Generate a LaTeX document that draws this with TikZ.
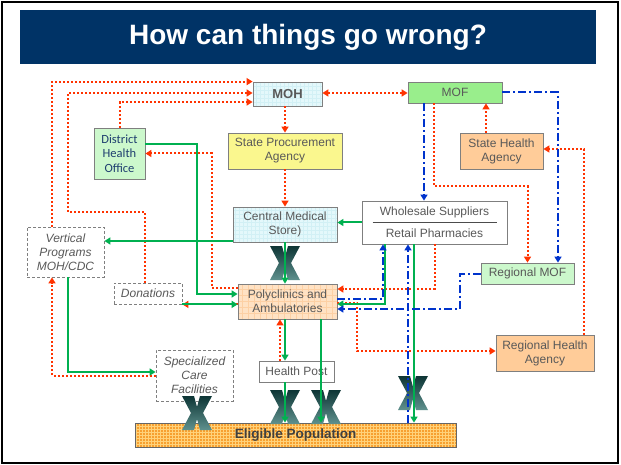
\documentclass[tikz,border=0pt]{standalone}
\usepackage{fontspec}
\setmainfont{Liberation Sans}
\newfontfamily\dhofont{Carlito}
\usetikzlibrary{arrows.meta,calc}
\definecolor{navy}{HTML}{003366}
\definecolor{redc}{HTML}{FF3300}
\definecolor{greenc}{HTML}{00B050}
\definecolor{bluec}{HTML}{0033CC}
\definecolor{boxgray}{HTML}{7F7F7F}
\definecolor{txtgray}{HTML}{595959}
\definecolor{cyanfill}{HTML}{E4F8FB}
\definecolor{cyangrid}{HTML}{D2F0F5}
\definecolor{moffill}{HTML}{99EE8C}
\definecolor{lgfill}{HTML}{CCF8CC}
\definecolor{yelfill}{HTML}{FAF78E}
\definecolor{peachfill}{HTML}{FFCC99}
\definecolor{polyfill}{HTML}{FFE2C4}
\definecolor{polygrid}{HTML}{FDD0A4}
\definecolor{epfill}{HTML}{F7A030}
\definecolor{epgrid}{HTML}{FFD27A}
\definecolor{dhotext}{HTML}{1F3F6F}
\definecolor{xtop}{HTML}{0D3535}
\definecolor{xbot}{HTML}{5F918E}
\begin{document}
\begin{tikzpicture}[x=1pt,y=-1pt,>={Triangle[length=6pt,width=7pt]},
  box/.style={draw=boxgray, line width=0.8pt, inner sep=0pt, align=center, text=txtgray,
    font=\fontsize{12}{14}\selectfont},
  dbox/.style={box, dash pattern=on 3pt off 2pt, fill=white, font=\itshape\fontsize{12}{14}\selectfont},
  gridfill/.style n args={3}{fill=#1, path picture={\draw[#2, line width=0.35pt, step=#3]
      (path picture bounding box.south west) grid (path picture bounding box.north east);}},
  rd/.style={draw=redc, line width=2pt, dash pattern=on 2pt off 2pt},
  gr/.style={draw=greenc, line width=2pt},
  bl/.style={draw=bluec, line width=2pt, dash pattern=on 8pt off 3pt on 2pt off 3pt},
  titletext/.style={text=white, font=\bfseries\fontsize{28}{32}\selectfont},
  bigx/.pic={\shade[top color=xtop, bottom color=xbot]
     (-15,-17) -- (-3,-17) -- (0,-6) -- (3,-17) -- (15,-17) -- (6,0) -- (15,17) -- (3,17)
     -- (0,6) -- (-3,17) -- (-15,17) -- (-6,0) -- cycle;}
]
\useasboundingbox (0,0) rectangle (621,465);
\fill[white] (0,0) rectangle (621,465);
\draw[black, line width=1.5pt] (2,2) rectangle (618,463);
\fill[navy] (20,10) rectangle (596,64);
\node[titletext] (title) at (308,37) {How can things go wrong?};

% nodes
\node[box, gridfill={cyanfill}{cyangrid}{4pt}, minimum width=69pt, minimum height=24pt,
  font=\bfseries\fontsize{13}{15}\selectfont] (moh) at (287.5,94) {MOH};
\node[box, fill=moffill, minimum width=94pt, minimum height=21pt] (mof) at (455,92.5) {MOF};
\node[box, fill=lgfill, minimum width=51pt, minimum height=51pt, text=dhotext,
  font=\dhofont\fontsize{12.5}{14.5}\selectfont] (dho) at (119.5,153.5) {District\\Health\\Office};
\node[box, fill=yelfill, minimum width=114pt, minimum height=36pt] (spa) at (285,151) {State Procurement\\Agency};
\node[box, fill=peachfill, minimum width=83pt, minimum height=36pt] (sha) at (501.5,151) {State Health\\Agency};
\node[box, gridfill={cyanfill}{cyangrid}{4pt}, minimum width=104pt, minimum height=35pt] (cms) at (285,224.5) {Central Medical\\Store)};
\node[box, fill=white, minimum width=145pt, minimum height=43pt] (ws) at (434.5,222.5) {};
\node[text=txtgray, font=\fontsize{12}{14}\selectfont, inner sep=0pt] (wst) at (434.5,212) {Wholesale Suppliers};
\node[text=txtgray, font=\fontsize{12}{14}\selectfont, inner sep=0pt] (wsb) at (434.5,233.5) {Retail Pharmacies};
\draw[black!70, line width=0.8pt] ([xshift=11]ws.west) -- ([xshift=-10]ws.east);
\node[dbox, minimum width=77pt, minimum height=50pt] (vp) at (65.5,252) {Vertical\\Programs\\MOH/CDC};
\node[dbox, minimum width=68pt, minimum height=21pt] (don) at (148,293.5) {Donations};
\node[box, gridfill={polyfill}{polygrid}{6pt}, minimum width=99pt, minimum height=35pt] (poly) at (287.5,301.5) {Polyclinics and\\Ambulatories};
\node[box, fill=lgfill, minimum width=93pt, minimum height=21pt] (rmof) at (527.5,273.5) {Regional MOF};
\node[box, fill=peachfill, minimum width=98pt, minimum height=36pt] (rha) at (545,353) {Regional Health\\Agency};
\node[dbox, minimum width=77pt, minimum height=51pt] (scf) at (194.5,375.5) {Specialized\\Care\\Facilities};
\node[box, fill=white, minimum width=75pt, minimum height=21pt] (hp) at (296.5,371.5) {Health Post};
\node[box, draw=black!60, gridfill={epfill}{epgrid}{3pt}, minimum width=321pt, minimum height=24pt,
  text=black!75, font=\bfseries\fontsize{13.5}{15}\selectfont] (ep) at (295.5,435) {Eligible Population};

% X marks
\pic at (285,263) {bigx};
\pic at (197,413) {bigx};
\pic at (285,407) {bigx};
\pic at (326,407) {bigx};
\pic at (413,393) {bigx};

% red dotted connectors
\coordinate (dbend) at (68,212);
\draw[rd,->] ([xshift=-13.5]vp.north) |- (moh.north west);
\draw[rd,->] ([xshift=-3]don.north) |- (dbend) |- ([yshift=1]moh.west);
\draw[rd,->] (dho.north) |- ([yshift=-8]moh.west);
\draw[rd,<->] ([yshift=1]moh.east) -- ([yshift=1]moh.east -| mof.west);
\draw[rd,->] (spa.north |- moh.south) -- (spa.north);
\draw[rd,->] (spa.south) -- (cms.north);
\draw[rd,->] ([yshift=13.5]poly.west) -- ++(-26,0) |- (dho.east);
\draw[rd,->] ([xshift=-21]mof.south) -- ++(0,83) -| (rmof.north);
\draw[rd,->] ([xshift=-15.5]sha.north) -- ([xshift=-15.5]sha.north |- mof.south);
\draw[rd,->] ([xshift=39]rha.north) |- ([yshift=2]sha.east);
\draw[rd,->] (ws.south) |- ([yshift=12.5]poly.east);
\draw[rd,->] ([yshift=-1.5]poly.east) -- ++(20,0) |- ([yshift=2]rha.west);
\draw[rd,->] ([xshift=-16.5]hp.north) -- ([xshift=-16.5]hp.north |- poly.south);
\draw[rd,->] (scf.west) -| ([xshift=-13.5]vp.south);
\draw[rd,->] (poly.west |- don.south east) -- (don.south east);

% green connectors
\draw[gr,->] (don.south east) -- (poly.west |- don.south east);
\draw[gr,->] ([yshift=9.5]dho.east) -- ++(52,0) |- ([yshift=7.5]poly.west);
\draw[gr,->] ([yshift=-16.5]cms.west) -- ([yshift=-16.5]cms.west -| vp.east);
\draw[gr,->] (ws.west) -- (ws.west -| cms.east);
\draw[gr,->] (cms.south) -- (cms.south |- poly.north);
\draw[gr,->] ([xshift=-49.5]ws.south) |- ([yshift=-2.5]poly.east);
\draw[gr,->] ([xshift=-2.5]poly.south) -- ([xshift=-2.5]poly.south |- hp.north);
\draw[gr,->] ([xshift=-11.5]hp.south) -- ([xshift=-11.5]hp.south |- ep.north);
\draw[gr,->] ([xshift=33.5]poly.south) -- ([xshift=33.5]poly.south |- ep.north);
\draw[gr,->] ([xshift=-20.5]ws.south) -- ([xshift=-20.5]ws.south |- ep.north);
\draw[gr,->] ([xshift=2.5]vp.south) |- ([yshift=3.5]scf.west);

% blue dash-dot connectors
\draw[bl,->] ([xshift=-31]mof.south) -- ([xshift=-31]mof.south |- ws.north);
\draw[bl,->] (mof.east) -| ([xshift=30.5]rmof.north);
\draw[bl,->] (rmof.west) -- ++(-21,0) |- ([yshift=-7.5]poly.east);
\draw[bl,->] ([yshift=2.5]poly.east) -| ([xshift=-51.5]ws.south);
\draw[bl,->] ([xshift=-26.5]ws.south |- ep.north) -- ([xshift=-26.5]ws.south);
\end{tikzpicture}
\end{document}
